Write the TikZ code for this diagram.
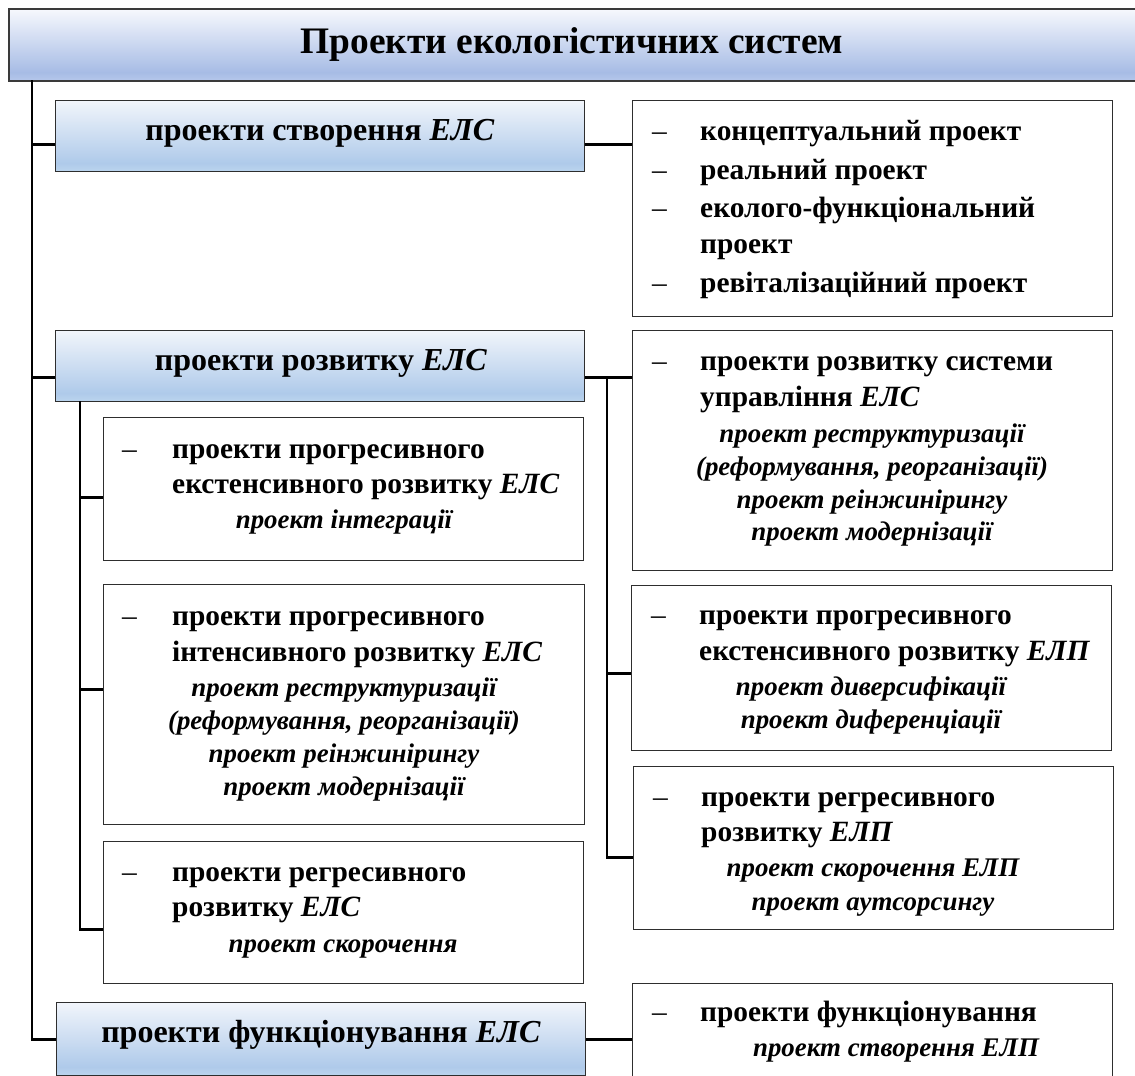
\documentclass[tikz,border=0pt]{standalone}
\usepackage{fontspec}
\setmainfont{Liberation Serif}
\definecolor{frame}{HTML}{2E2E2E}
\definecolor{titlefrm}{HTML}{3A3A3A}
\definecolor{tbot}{HTML}{B6C8EB}
\definecolor{tmid}{HTML}{A7BCE5}
\definecolor{ttop}{HTML}{F6F8FD}
\definecolor{hbot}{HTML}{BCD5EE}
\definecolor{hmid}{HTML}{AFCAEA}
\definecolor{htop}{HTML}{F1F5FB}
\pgfdeclareverticalshading{titleshade}{100bp}{color(0bp)=(tbot); color(25bp)=(tbot); color(31bp)=(tmid); color(75bp)=(ttop); color(100bp)=(ttop)}
\pgfdeclareverticalshading{headshade}{100bp}{color(0bp)=(hbot); color(25bp)=(hbot); color(31bp)=(hmid); color(75bp)=(htop); color(100bp)=(htop)}
\begin{document}
\begin{tikzpicture}[x=1pt,y=-1pt,
  titlebox/.style={draw=titlefrm, line width=2pt, shading=titleshade, anchor=north west, inner sep=0pt},
  headbox/.style={draw=frame, line width=1.4pt, shading=headshade, anchor=north west, inner sep=0pt},
  itembox/.style={draw=frame, line width=1.3pt, fill=white, anchor=north west, inner sep=0pt},
  conn/.style={draw=black, line width=2.6pt, line join=miter},
  titletext/.style={anchor=base, inner sep=0pt, font=\fontsize{37.4}{44}\selectfont\bfseries},
  headtext/.style={anchor=base, inner sep=0pt, font=\fontsize{32}{38}\selectfont\bfseries},
  itemtext/.style={anchor=base west, inner sep=0pt, font=\fontsize{29.4}{35}\selectfont\bfseries},
  dashmark/.style={anchor=base west, inner sep=0pt, font=\fontsize{29.4}{35}\selectfont},
  subtext/.style={anchor=base, inner sep=0pt, font=\fontsize{26.9}{32}\selectfont\bfseries\itshape}
]
\useasboundingbox (0,0) rectangle (1135,1076);
\clip (0,0) rectangle (1135,1076);

% ---- boxes ----
\node[titlebox, minimum width=1130pt, minimum height=72pt] (title) at (8,8) {};
\node[headbox, minimum width=529pt, minimum height=71pt] (create) at (55,100) {};
\node[headbox, minimum width=529pt, minimum height=71pt] (develop) at (55,330) {};
\node[headbox, minimum width=529pt, minimum height=73pt] (func) at (56,1002) {};

\node[itembox, minimum width=480pt, minimum height=216pt] (r1) at (632,100) {};
\node[itembox, minimum width=480pt, minimum height=240pt] (r2) at (632,330) {};
\node[itembox, minimum width=480pt, minimum height=165pt] (r3) at (631,585) {};
\node[itembox, minimum width=480pt, minimum height=163pt] (r4) at (633,766) {};
\node[itembox, minimum width=480pt, minimum height=120pt] (r5) at (632,983) {};

\node[itembox, minimum width=480pt, minimum height=143pt] (la) at (103,417) {};
\node[itembox, minimum width=481pt, minimum height=240pt] (lb) at (103,584) {};
\node[itembox, minimum width=480pt, minimum height=142pt] (lc) at (103,841) {};

% ---- connectors ----
\coordinate (trunk) at (32,80);
\draw[conn] (trunk) |- (func.west);
\draw[conn] ([yshift=-8pt]create.west -| trunk) -- ([yshift=-8pt]create.west);
\draw[conn] ([yshift=-11.5pt]develop.west -| trunk) -- ([yshift=-11.5pt]develop.west);

\draw[conn] ([yshift=-8pt]create.east) -- ([yshift=-8pt]create.east -| r1.west);
\draw[conn] ([yshift=-11.5pt]develop.east) -- ([yshift=-11.5pt]develop.east -| r2.west);
\draw[conn] (func.east) -- (func.east -| r5.west);

\coordinate (rtrunk) at (607,377);
\draw[conn] (rtrunk) |- ([yshift=-9.5pt]r4.west);
\draw[conn] ([yshift=-5.5pt]r3.west -| rtrunk) -- ([yshift=-5.5pt]r3.west);

\coordinate (ltrunk) at (80,401);
\draw[conn] (ltrunk) |- ([yshift=-17pt]lc.west);
\draw[conn] ([yshift=-8.5pt]la.west -| ltrunk) -- ([yshift=-8.5pt]la.west);
\draw[conn] ([yshift=15pt]lb.west -| ltrunk) -- ([yshift=15pt]lb.west);

% ---- headings ----
\node[titletext] (t0) at (572,53) {Проекти екологістичних систем};
\node[headtext] (t1) at (320,140) {проекти створення \textit{ЕЛС}};
\node[headtext] (t2) at (321,370) {проекти розвитку \textit{ЕЛС}};
\node[headtext] (t3) at (321,1042) {проекти функціонування \textit{ЕЛС}};

% ---- right column ----
\foreach \y in {140,179,217,292} \node[dashmark] at (652,\y) {–};
\node[itemtext] (r1a) at (700,140) {концептуальний проект};
\node[itemtext] (r1b) at (700,179) {реальний проект};
\node[itemtext] (r1c) at (700,217) {еколого-функціональний};
\node[itemtext] (r1d) at (700,253) {проект};
\node[itemtext] (r1e) at (700,292) {ревіталізаційний проект};

\node[dashmark] at (652,370) {–};
\node[itemtext] (r2a) at (700,370) {проекти розвитку системи};
\node[itemtext] (r2b) at (700,406) {управління \textit{ЕЛС}};
\node[subtext] (r2c) at (872,442) {проект реструктуризації};
\node[subtext] (r2d) at (872,475) {(реформування, реорганізації)};
\node[subtext] (r2e) at (872,508) {проект реінжинірингу};
\node[subtext] (r2f) at (872,540) {проект модернізації};

\node[dashmark] at (651,624) {–};
\node[itemtext] (r3a) at (699,624) {проекти прогресивного};
\node[itemtext] (r3b) at (699,660) {екстенсивного розвитку \textit{ЕЛП}};
\node[subtext] (r3c) at (871,695) {проект диверсифікації};
\node[subtext] (r3d) at (871,728) {проект диференціації};

\node[dashmark] at (653,806) {–};
\node[itemtext] (r4a) at (701,806) {проекти регресивного};
\node[itemtext] (r4b) at (701,841) {розвитку \textit{ЕЛП}};
\node[subtext] (r4c) at (873,876) {проект скорочення ЕЛП};
\node[subtext] (r4d) at (873,910) {проект аутсорсингу};

\node[dashmark] at (652,1021) {–};
\node[itemtext] (r5a) at (700,1021) {проекти функціонування};
\node[subtext] (r5b) at (896,1056) {проект створення ЕЛП};

% ---- left inner column ----
\node[dashmark] at (122,458) {–};
\node[itemtext] (laa) at (172,458) {проекти прогресивного};
\node[itemtext] (lab) at (172,493) {екстенсивного розвитку \textit{ЕЛС}};
\node[subtext] (lac) at (344,528) {проект інтеграції};

\node[dashmark] at (122,625) {–};
\node[itemtext] (lba) at (172,625) {проекти прогресивного};
\node[itemtext] (lbb) at (172,661) {інтенсивного розвитку \textit{ЕЛС}};
\node[subtext] (lbc) at (344,696) {проект реструктуризації};
\node[subtext] (lbd) at (344,729) {(реформування, реорганізації)};
\node[subtext] (lbe) at (344,762) {проект реінжинірингу};
\node[subtext] (lbf) at (344,795) {проект модернізації};

\node[dashmark] at (122,881) {–};
\node[itemtext] (lca) at (172,881) {проекти регресивного};
\node[itemtext] (lcb) at (172,916) {розвитку \textit{ЕЛС}};
\node[subtext] (lcc) at (343,952) {проект скорочення};
\end{tikzpicture}
\end{document}
